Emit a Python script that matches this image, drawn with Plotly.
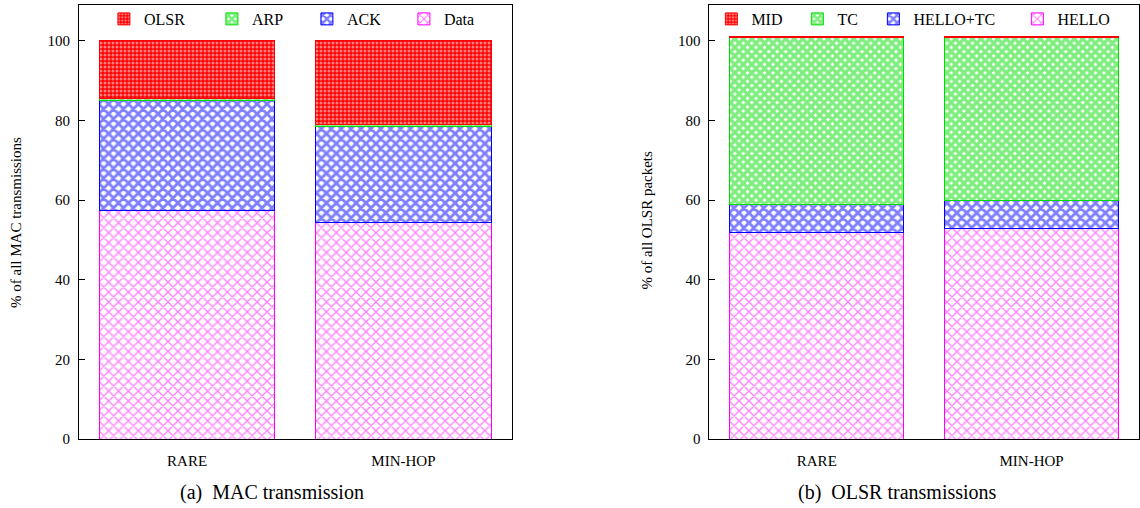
import plotly.graph_objects as go

# ---------------- data ----------------
categories = ["RARE", "MIN-HOP"]

# (a) MAC transmission: % of all MAC transmissions (stack bottom -> top)
mac_data = [57.5, 54.5]
mac_ack = [27.6, 23.9]
mac_arp = [0.5, 0.5]
mac_olsr = [14.4, 21.1]

# (b) OLSR transmissions: % of all OLSR packets (stack bottom -> top)
olsr_hello = [51.8, 52.8]
olsr_hello_tc = [7.1, 7.1]
olsr_tc = [42.0, 41.0]
olsr_mid = [0.3, 0.3]

y_ticks = [0, 20, 40, 60, 80, 100]

REF_H = 508
W, H = 1140, 516
FONT = "Liberation Serif"

def px(x):  # reference x -> paper fraction
    return x / W

def py(y):  # reference y -> paper fraction (vertical positions expressed on a 508 high frame)
    return 1 - y / REF_H

RED = "#ff0000"
GREEN = "#00dd00"
BLUE = "#0000ff"
MAGENTA = "#ff00ff"

def pat(color):
    if color == RED:
        return dict(shape=".", size=4, solidity=0.45, fgcolor="white", bgcolor=RED)
    if color == GREEN:
        return dict(shape="x", size=6, solidity=0.8, fgcolor=GREEN, bgcolor="white")
    if color == BLUE:
        return dict(shape="x", size=7, solidity=0.65, fgcolor=BLUE, bgcolor="white")
    return dict(shape="x", size=7, solidity=0.35, fgcolor=MAGENTA, bgcolor="white")

fig = go.Figure()

left_series = [("Data", mac_data, MAGENTA, 56), ("ACK", mac_ack, BLUE, 52),
               ("ARP", mac_arp, GREEN, 50), ("OLSR", mac_olsr, RED, 63)]
for name, vals, col, lw in left_series:
    fig.add_trace(go.Bar(
        x=categories, y=vals, name=name, xaxis="x", yaxis="y", legend="legend",
        legendwidth=lw,
        marker=dict(color="white", pattern=pat(col), line=dict(color=col, width=1)),
    ))

right_series = [("HELLO", olsr_hello, MAGENTA, 55), ("HELLO+TC", olsr_hello_tc, BLUE, 99),
                ("TC", olsr_tc, GREEN, 31), ("MID", olsr_mid, RED, 41)]
for name, vals, col, lw in right_series:
    fig.add_trace(go.Bar(
        x=categories, y=vals, name=name, xaxis="x2", yaxis="y2", legend="legend2",
        legendwidth=lw,
        marker=dict(color="white", pattern=pat(col), line=dict(color=col, width=1)),
    ))

x1_dom = [px(79), px(512)]
x2_dom = [px(710), 1.0]
y_dom = [py(439), py(5)]

xcommon = dict(type="category", range=[-0.5, 1.5], ticks="", showline=True, mirror=True,
               linecolor="black", linewidth=1, showgrid=False, zeroline=False,
               tickfont=dict(family=FONT, size=15, color="black"), ticklabelstandoff=8)
ycommon = dict(range=[0, 109], tickvals=y_ticks, ticks="inside", ticklen=6, tickcolor="black",
               showline=True, mirror=True, linecolor="black", linewidth=1, showgrid=False,
               zeroline=False, tickfont=dict(family=FONT, size=15, color="black"),
               ticklabelstandoff=5)
topcommon = dict(type="linear", range=[-0.5, 1.5], tickvals=[0, 1], ticks="inside", ticklen=6,
                 tickcolor="black", showticklabels=False, showline=False, showgrid=False,
                 zeroline=False, side="top")

legcommon = dict(orientation="h", xanchor="left", yanchor="middle", y=py(19),
                 bgcolor="rgba(0,0,0,0)", traceorder="reversed",
                 font=dict(family=FONT, size=16, color="black"))

def ann(text, x, y, size, angle=0):
    return dict(text=text, x=px(x), y=py(y), xref="paper", yref="paper", xanchor="center",
                yanchor="middle", textangle=angle, showarrow=False,
                font=dict(family=FONT, size=size, color="black"))

fig.update_layout(
    width=W, height=H,
    margin=dict(l=0, r=0, t=0, b=0),
    paper_bgcolor="white", plot_bgcolor="white",
    barmode="stack", bargap=0.19,
    font=dict(family=FONT, size=15, color="black"),
    xaxis=dict(domain=x1_dom, anchor="y", **xcommon),
    yaxis=dict(domain=y_dom, anchor="x", **ycommon),
    xaxis2=dict(domain=x2_dom, anchor="y2", **xcommon),
    yaxis2=dict(domain=y_dom, anchor="x2", **ycommon),
    xaxis3=dict(overlaying="x", anchor="y", **topcommon),
    xaxis4=dict(overlaying="x2", anchor="y2", **topcommon),
    legend=dict(x=px(104), **legcommon),
    legend2=dict(x=px(712), **legcommon),
    annotations=[
        ann("% of all MAC transmissions", 16, 222, 15, -90),
        ann("% of all OLSR packets", 648, 220, 15, -90),
        ann("(a)  MAC transmission", 272, 492, 20),
        ann("(b)  OLSR transmissions", 898, 492, 20),
    ],
)

# remove the browser's default body margin so the figure starts at the window's corner
fig.write_html("out.html", config={"displayModeBar": False},
               post_script="document.body.style.margin='0px';")
